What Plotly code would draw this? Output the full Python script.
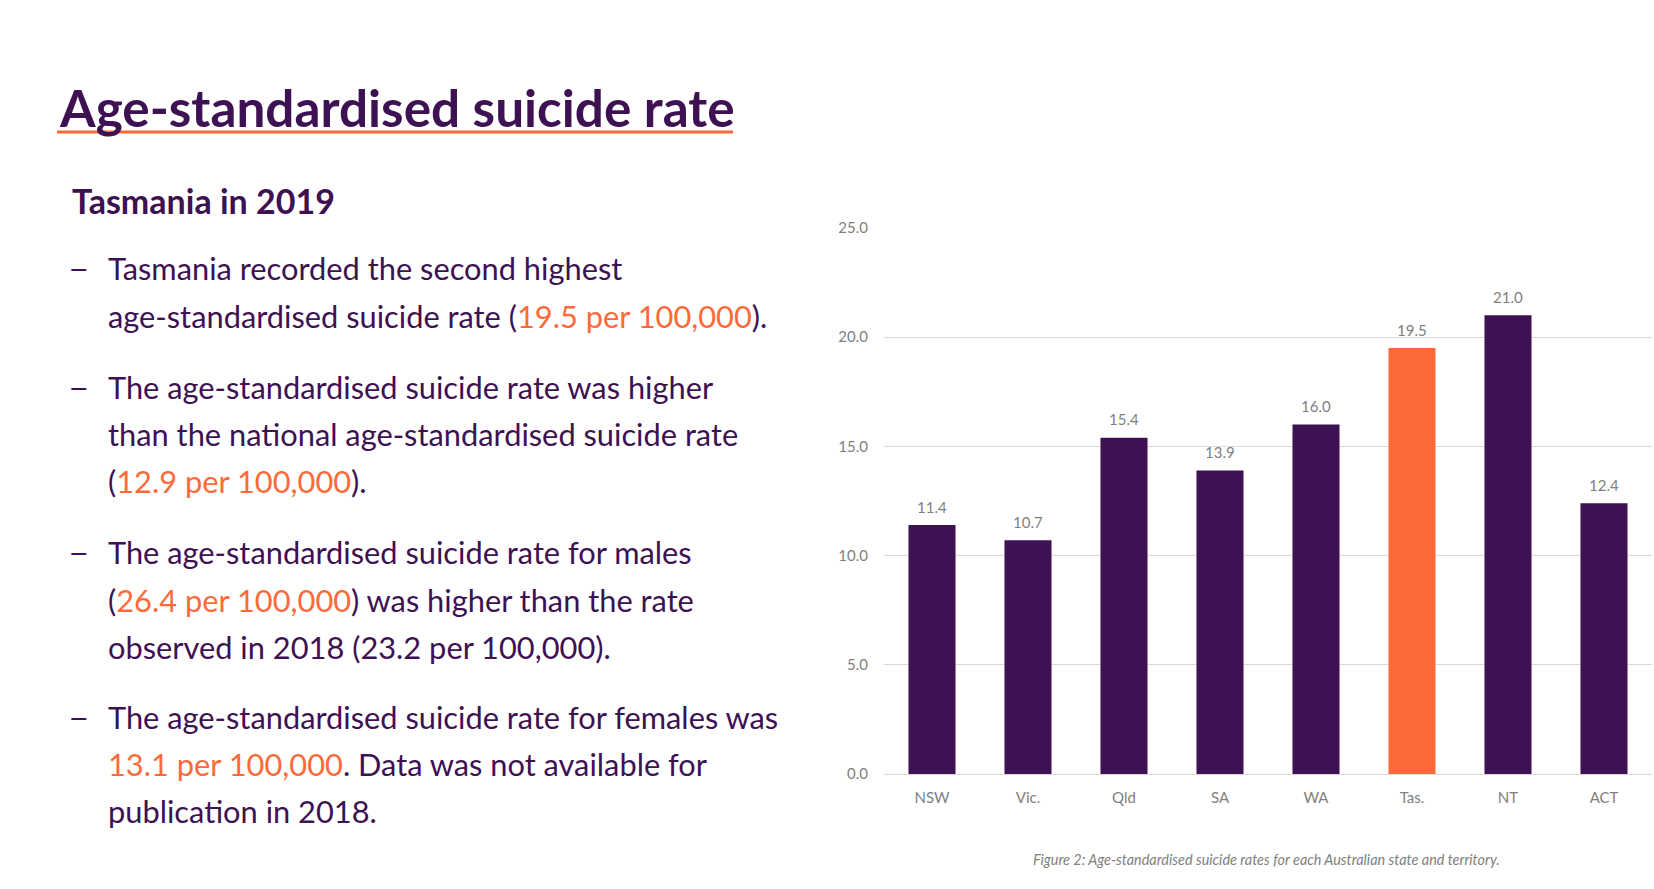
import plotly.graph_objects as go

# ---- data ----
states = ["NSW", "Vic.", "Qld", "SA", "WA", "Tas.", "NT", "ACT"]
rates = [11.4, 10.7, 15.4, 13.9, 16.0, 19.5, 21.0, 12.4]
highlight = "Tas."
y_ticks = [0, 5, 10, 15, 20, 25]

title_text = "Age-standardised suicide rate"
subtitle_text = "Tasmania in 2019"
caption_text = "Figure 2: Age-standardised suicide rates for each Australian state and territory."

PURPLE = "#3d1152"
ORANGE = "#fd6a39"
GRAY = "#7f7f7f"
GRID = "#d9d9d9"
FONT = "Lato"


def o(t):
    return f'<span style="color:{ORANGE}">{t}</span>'


bullet_lines = [
    ("—", "Tasmania recorded the second highest"),
    (None, "age-standardised suicide rate (" + o("19.5 per 100,000") + ")."),
    ("—", "The age-standardised suicide rate was higher"),
    (None, "than the national age-standardised suicide rate"),
    (None, "(" + o("12.9 per 100,000") + ")."),
    ("—", "The age-standardised suicide rate for males"),
    (None, "(" + o("26.4 per 100,000") + ") was higher than the rate"),
    (None, "observed in 2018 (23.2 per 100,000)."),
    ("—", "The age-standardised suicide rate for females was"),
    (None, o("13.1 per 100,000") + ". Data was not available for"),
    (None, "publication in 2018."),
]
line_y_px = [268, 316, 387, 434, 481, 552, 600, 647, 717, 764, 811]

# ---- layout geometry (pixels) ----
W, H = 1654, 889
L, R, T, B = 884, 1652, 228, 774


def px(x):
    return (x - L) / (R - L)


def py(y):
    return (B - y) / (B - T)


colors = [ORANGE if s == highlight else PURPLE for s in states]

fig = go.Figure()
fig.add_trace(go.Bar(
    x=states, y=rates,
    marker=dict(color=colors, line=dict(width=0)),
    hoverinfo="skip",
))

annotations = []
# value labels above bars
for s, v in zip(states, rates):
    annotations.append(dict(
        x=s, y=v, xref="x", yref="y", text=f"{v:.1f}", showarrow=False,
        xanchor="center", yanchor="middle", yshift=18.5,
        font=dict(family=FONT, size=15, color=GRAY),
    ))
annotations.append(dict(
    x=px(57), y=py(107), xref="paper", yref="paper",
    text=f"<b>{title_text}</b>", showarrow=False, xanchor="left", yanchor="middle",
    font=dict(family=FONT, size=51.3, color=PURPLE),
))
annotations.append(dict(
    x=px(70), y=py(201), xref="paper", yref="paper",
    text=f"<b>{subtitle_text}</b>", showarrow=False, xanchor="left", yanchor="middle",
    font=dict(family=FONT, size=34, color=PURPLE),
))
for (dash, txt), ly in zip(bullet_lines, line_y_px):
    if dash:
        annotations.append(dict(
            x=px(68), y=py(ly), xref="paper", yref="paper", text=f"<b>{dash}</b>",
            showarrow=False, xanchor="left", yanchor="middle",
            font=dict(family=FONT, size=22, color=PURPLE),
        ))
    annotations.append(dict(
        x=px(106), y=py(ly), xref="paper", yref="paper", text=txt,
        showarrow=False, xanchor="left", yanchor="middle",
        font=dict(family=FONT, size=30.8, color=PURPLE),
    ))
annotations.append(dict(
    x=px(1266), y=py(860), xref="paper", yref="paper",
    text=f"<i>{caption_text}</i>", showarrow=False, xanchor="center", yanchor="middle",
    font=dict(family=FONT, size=14.4, color=GRAY),
))

fig.update_layout(
    width=W, height=H,
    margin=dict(l=L, r=W - R, t=T, b=H - B, pad=0),
    paper_bgcolor="white", plot_bgcolor="white",
    showlegend=False,
    bargap=0.51,
    annotations=annotations,
    shapes=[dict(type="line", xref="paper", yref="paper",
                 x0=px(57), x1=px(733), y0=py(132), y1=py(132),
                 line=dict(color=ORANGE, width=3))],
    font=dict(family=FONT),
)
fig.update_xaxes(
    showgrid=False, showline=False, zeroline=False,
    ticks="outside", ticklen=10, tickcolor="rgba(0,0,0,0)",
    tickfont=dict(family=FONT, size=15, color=GRAY),
)
fig.update_yaxes(
    range=[0, 25], tickvals=y_ticks, ticktext=[f"{v:.1f}" for v in y_ticks],
    showgrid=True, gridcolor=GRID, gridwidth=1,
    zeroline=True, zerolinecolor=GRID, zerolinewidth=1,
    showline=False,
    ticks="outside", ticklen=12, tickcolor="rgba(0,0,0,0)",
    tickfont=dict(family=FONT, size=15, color=GRAY),
)

fig.write_html("out.html")
